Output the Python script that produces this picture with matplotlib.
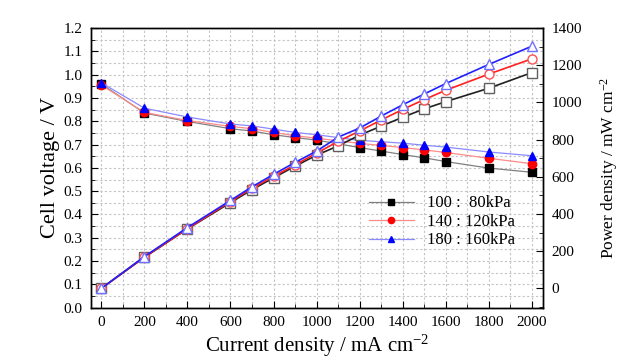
import matplotlib
matplotlib.use('Agg')
import matplotlib.pyplot as plt
from matplotlib.ticker import MultipleLocator, FormatStrFormatter

plt.rcParams['font.family'] = ['Liberation Serif', 'DejaVu Serif']
plt.rcParams['mathtext.default'] = 'regular'

# current density (mA cm-2)
current_v = [0, 200, 400, 600, 700, 800, 900, 1000, 1200, 1300, 1400, 1500, 1600, 1800, 2000]
current_p = [0, 200, 400, 600, 700, 800, 900, 1000, 1100, 1200, 1300, 1400, 1500, 1600, 1800, 2000]

# cell voltage (V)
volt_100 = [0.960, 0.835, 0.799, 0.768, 0.758, 0.742, 0.730, 0.719, 0.687, 0.672, 0.657, 0.643, 0.627, 0.599, 0.581]
volt_140 = [0.955, 0.838, 0.803, 0.778, 0.768, 0.752, 0.738, 0.727, 0.705, 0.696, 0.687, 0.677, 0.666, 0.641, 0.618]
volt_180 = [0.965, 0.856, 0.818, 0.788, 0.780, 0.766, 0.752, 0.742, 0.718, 0.712, 0.706, 0.697, 0.689, 0.668, 0.652]

# power density (mW cm-2)
power_100 = [0, 167, 320, 461, 531, 594, 657, 716, 766, 824, 872, 920, 965, 1004, 1076, 1160]
power_140 = [0, 168, 321, 467, 538, 602, 664, 727, 790, 846, 905, 962, 1015, 1065, 1152, 1234]
power_180 = [0, 171, 327, 473, 546, 613, 677, 738, 813, 862, 926, 987, 1045, 1101, 1204, 1302]

labels = ['100 :  80kPa', '140 : 120kPa', '180 : 160kPa']
fill_colors = ['black', 'red', 'blue']
v_line_colors = ['#808080', '#ff8a8a', '#8a8aff']
p_line_colors = ['#202020', '#ff2020', '#2020ff']
p_edge_colors = ['#606060', '#ff5050', '#7070ff']
markers = ['s', 'o', '^']

fig = plt.figure(figsize=(6.26, 3.63), dpi=100)
ax = fig.add_axes([0.1454, 0.1523, 0.722, 0.7706])
ax2 = ax.twinx()

volts = [volt_100, volt_140, volt_180]
powers = [power_100, power_140, power_180]

for i in range(3):
    ax.plot(current_v, volts[i], color=v_line_colors[i], lw=0.9, marker=markers[i],
            ms=6, mfc=fill_colors[i], mec=fill_colors[i], label=labels[i], zorder=3)
    ax2.plot(current_p, powers[i], color=p_line_colors[i], lw=1.2, marker=markers[i],
             ms=6.5, mfc='white', mec=p_edge_colors[i], mew=1.0, zorder=3)

ax.set_xlim(-48, 2052)
ax.set_ylim(0, 1.2)
ax2.set_ylim(-104, 1400)

ax.xaxis.set_major_locator(MultipleLocator(200))
ax.xaxis.set_minor_locator(MultipleLocator(100))
ax.yaxis.set_major_locator(MultipleLocator(0.1))
ax.yaxis.set_minor_locator(MultipleLocator(0.05))
ax.yaxis.set_major_formatter(FormatStrFormatter('%.1f'))
ax2.yaxis.set_major_locator(MultipleLocator(200))
ax2.yaxis.set_minor_locator(MultipleLocator(100))

ax.grid(True, which='both', color='#c4c4c4', ls=(0, (2, 2)), lw=0.8)
ax.set_axisbelow(True)

for a in (ax, ax2):
    a.tick_params(which='both', direction='in', labelsize=11)
    a.tick_params(which='major', length=5, pad=6)
    a.tick_params(which='minor', length=3)
    for s in a.spines.values():
        s.set_linewidth(1.0)

ax.set_xlabel('Current density / mA cm$^{-2}$', fontsize=15, labelpad=3)
ax.set_ylabel('Cell voltage / V', fontsize=16, labelpad=3)
ax2.set_ylabel('Power density / mW cm$^{-2}$', fontsize=12.5, labelpad=12)

ax.legend(loc='center left', bbox_to_anchor=(0.615, 0.307), frameon=False,
          fontsize=12, handlelength=2.7, handletextpad=0.8, labelspacing=0.15,
          borderpad=0, borderaxespad=0, markerscale=0.75)

fig.savefig('out.png', dpi=100)
